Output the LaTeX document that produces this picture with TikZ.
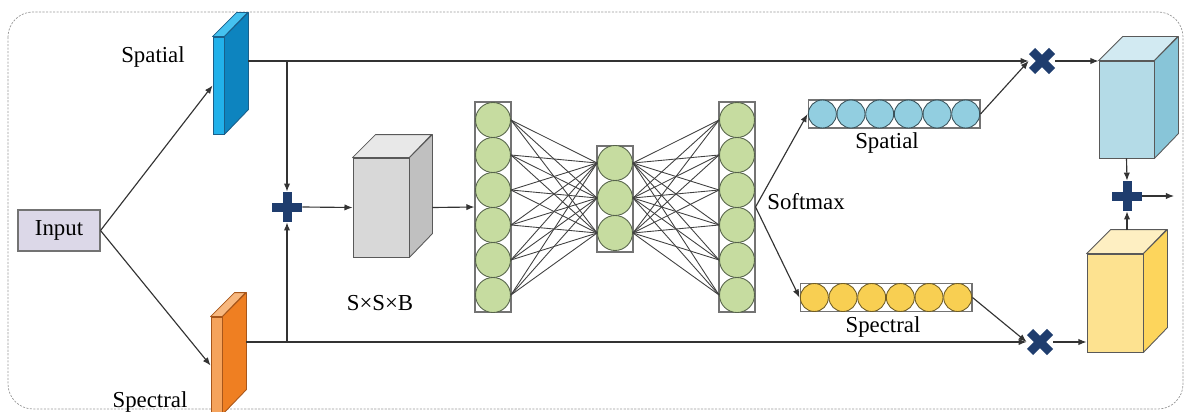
\documentclass[tikz,border=0pt]{standalone}
\usepackage{fontspec}
\setmainfont{Liberation Serif}
\newfontfamily\labelfont{Liberation Serif}
\usetikzlibrary{arrows.meta,positioning}

\definecolor{navy}{HTML}{1F3D6E}
\definecolor{inputc}{HTML}{DCD8E8}
\definecolor{neurf}{HTML}{C6DCA0}
\definecolor{neurb}{HTML}{56634A}
\definecolor{spaf}{HTML}{22B1EA}
\definecolor{spat}{HTML}{45C2F0}
\definecolor{spas}{HTML}{0D84BF}
\definecolor{spae}{HTML}{1A5F8A}
\definecolor{spef}{HTML}{F5A35C}
\definecolor{spet}{HTML}{F8B87F}
\definecolor{spes}{HTML}{EF7F22}
\definecolor{spee}{HTML}{A8561A}
\definecolor{grayf}{HTML}{D8D8D8}
\definecolor{grayt}{HTML}{E8E8E8}
\definecolor{grays}{HTML}{C0C0C0}
\definecolor{bluef}{HTML}{B4DBE7}
\definecolor{bluet}{HTML}{D2EAF2}
\definecolor{blues}{HTML}{88C5D8}
\definecolor{yelf}{HTML}{FDE290}
\definecolor{yelt}{HTML}{FEEFC2}
\definecolor{yels}{HTML}{FDD55C}
\definecolor{beadb}{HTML}{92CEE0}
\definecolor{beady}{HTML}{F8CF52}

\tikzset{
    lbl/.style={
        font=\labelfont\fontsize{13}{15}\selectfont,
        inner sep=0pt
    },
    inputbox/.style={
        lbl,
        draw=black!55,
        fill=inputc,
        line width=0.6pt,
        minimum width=1.64cm,
        minimum height=0.82cm
    },
    frame/.style={
        draw=black!40,
        dash pattern=on 1.2pt off 0.8pt,
        line width=0.4pt,
        rounded corners=0.5cm
    },
    arr/.style={
        draw=black!80,
        line width=0.65pt,
        -{Latex[length=4.6pt,width=3.6pt]}
    },
    link/.style={draw=black!75, line width=0.5pt},
    layer/.style={
        draw=black!55,
        line width=0.6pt,
        minimum width=0.72cm,
        inner sep=0pt
    },
    neuron/.style={
        circle,
        draw=neurb,
        fill=neurf,
        line width=0.5pt,
        minimum size=0.7cm,
        inner sep=0pt
    },
    bar/.style={
        draw=black!55,
        line width=0.6pt,
        minimum width=3.44cm,
        minimum height=0.56cm,
        inner sep=0pt
    },
    bead/.style={
        circle,
        line width=0.5pt,
        minimum size=0.56cm,
        inner sep=0pt
    },
    opmark/.style={minimum size=0.52cm, inner sep=0pt},
    face/.style={inner sep=0pt, line width=0.5pt}
}

% name, centre, width, height, depth, front, top, side, edge
\newcommand{\cuboid}[9]{%
  \node[face, fill=#6, draw=#9, minimum width=#3*0.02cm, minimum height=#4*0.02cm] (#1) at #2 {};
  \draw[draw=#9, fill=#7, line width=0.5pt, line join=round]
    (#1.north west) -- ++(#5,-#5) -- ++(#3,0) -- (#1.north east) -- cycle;
  \draw[draw=#9, fill=#8, line width=0.5pt, line join=round]
    (#1.north east) -- ++(#5,-#5) -- ++(0,#4) -- (#1.south east) -- cycle;
}
\newcommand{\plusmark}[2]{%
  \node[opmark, minimum size=0.6cm] (#1) at #2 {};
  \fill[navy] (#1.center) ++(-15,-4.5) rectangle ++(30,9);
  \fill[navy] (#1.center) ++(-4.5,-15) rectangle ++(9,30);
}
\newcommand{\timesmark}[2]{%
  \node[opmark] (#1) at #2 {};
  \draw[navy, line width=5pt] (#1.center) ++(-10,-10) -- ++(20,20);
  \draw[navy, line width=5pt] (#1.center) ++(-10,10) -- ++(20,-20);
}

\begin{document}
\begin{tikzpicture}[x=0.02cm, y=-0.02cm]
  \useasboundingbox (0,0) rectangle (1186,412);
  \draw[frame] (8,12) rectangle (1183,409);

  \node[inputbox] (input) at (59,230.5) {Input};

  % the two branches
  \cuboid{spa}{(218.5,85.5)}{11}{97}{24}{spaf}{spat}{spas}{spae}
  \cuboid{spe}{(216.5,365.5)}{11}{97}{24}{spef}{spet}{spes}{spee}
  \node[lbl] (spalbl) at (153,57) {Spatial};
  \node[lbl] (spelbl) at (150,402) {Spectral};
  \draw[arr] (input.east) -- (spa.west);
  \draw[arr] (input.east) -- (spe.west);

  \coordinate (spaout) at (248,61);
  \coordinate (speout) at (246,342);
  \plusmark{add1}{(287,207)}
  \timesmark{mul1}{(1042,61)}
  \timesmark{mul2}{(1040,342)}
  \draw[arr] (spaout) -- (mul1.west);
  \draw[arr] (speout) -- (mul2.west);
  \draw[arr] (add1 |- spaout) -- (add1.north);
  \draw[arr] (add1 |- speout) -- (add1.south);

  \cuboid{gcube}{(381,207.5)}{56}{99}{23}{grayf}{grayt}{grays}{black!65}
  \node[lbl] (sizelbl) at (380,303) {S×S×B};
  \draw[arr] (add1.east) -- (gcube.west);

  % fully connected layers
  \node[layer, minimum height=4.2cm] (net1) at (493,207) {};
  \node[layer, minimum height=2.12cm] (net2) at (615,199) {};
  \node[layer, minimum height=4.2cm] (net3) at (737,207) {};
  \foreach \i in {1,...,6} {
    \node[neuron] (a\i) at (493,{85+35*\i}) {};
    \node[neuron] (c\i) at (737,{85+35*\i}) {};
  }
  \foreach \j in {1,2,3}
    \node[neuron] (b\j) at (615,{128+35*\j}) {};
  \foreach \i in {1,...,6}
    \foreach \j in {1,2,3} {
      \draw[link] (a\i.east) -- (b\j.west);
      \draw[link] (b\j.east) -- (c\i.west);
    }
  \draw[arr] ([xshift=0.46cm]gcube.east) -- (net1.west);

  % softmax weights
  \node[lbl, anchor=west] (softmax) at (767,202) {Softmax};
  \node[bar] (spabar) at (894,114) {};
  \node[bar] (spebar) at (886,297.5) {};
  \foreach \k in {1,...,6} {
    \node[bead, draw=black!60!beadb, fill=beadb] (s\k) at ({793.67+28.67*\k},114) {};
    \node[bead, draw=black!55!beady, fill=beady] (t\k) at ({785.67+28.67*\k},297.5) {};
  }
  \node[lbl] (spabarlbl) at (887,143) {Spatial};
  \node[lbl] (spebarlbl) at (883,327) {Spectral};
  \draw[arr] (net3.east) -- (spabar.west);
  \draw[arr] (net3.east) -- (spebar.west);
  \draw[arr] (spabar.east) -- (mul1.west);
  \draw[arr] (spebar.east) -- (mul2.west);

  % reweighted cubes and fusion
  \cuboid{bcube}{(1126.5,109.5)}{55}{97}{24}{bluef}{bluet}{blues}{black!65}
  \cuboid{ycube}{(1115,303)}{56}{98}{24}{yelf}{yelt}{yels}{black!65}
  \draw[arr] (mul1.east) -- (mul1 -| bcube.west);
  \draw[arr] (mul2.east) -- (mul2 -| ycube.west);
  \plusmark{add2}{(1127,196)}
  \coordinate (ytop) at (1127,230);
  \coordinate (out) at (1174,196);
  \draw[arr] (bcube.south) -- (add2.north);
  \draw[arr] (ytop) -- (add2.south);
  \draw[arr] (add2.east) -- (out);
\end{tikzpicture}
\end{document}
